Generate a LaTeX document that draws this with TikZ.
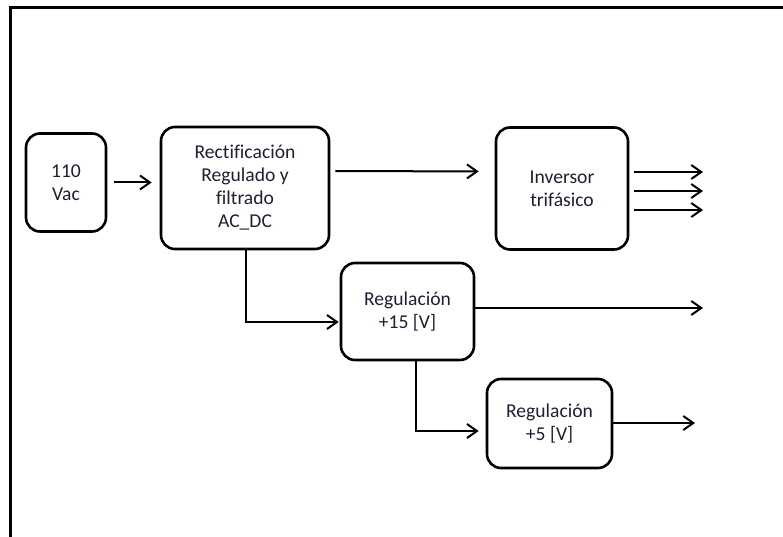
\documentclass[tikz,border=0pt]{standalone}
\usepackage{fontspec}
\setmainfont{Carlito}[Ligatures={NoCommon}]
\usetikzlibrary{arrows.meta}
\definecolor{txt}{RGB}{28,32,48}
\begin{document}
\begin{tikzpicture}[x=1pt,y=-1pt,
  blk/.style={draw=black, line width=2.6pt, rounded corners=14pt, align=center,
    text=txt, font=\fontsize{19.6}{23}\selectfont, inner sep=0pt},
  arr/.style={draw=black, line width=2pt, -{Straight Barb[length=10pt,width=14pt,line width=2pt]}}]
\useasboundingbox (0,0) rectangle (783,537);
\draw[line width=3pt] (10,540) -- (10,8) -- (786,8);
\node[blk, minimum width=80pt, minimum height=98pt] (vac) at (66,182.5) {110\\Vac};
\node[blk, minimum width=168pt, minimum height=122pt] (rect) at (245,188) {Rectificación\\Regulado y\\filtrado\\AC\_DC};
\node[blk, minimum width=132pt, minimum height=122pt] (inv) at (562,188.5) {Inversor\\trifásico};
\node[blk, minimum width=133pt, minimum height=97pt] (r15) at (407.5,311.5) {Regulación\\+15 [V]};
\node[blk, minimum width=125pt, minimum height=89pt] (r5) at (549.5,423.5) {Regulación\\+5 [V]};
\coordinate (o1) at (703,172);
\coordinate (o2) at (703,191);
\coordinate (o3) at (703,210);
\coordinate (out15) at (703,308);
\coordinate (out5) at (695,423);
\draw[arr, shorten <=7pt, shorten >=8pt] (vac.east) -- (rect.west |- vac.east);
\draw[arr, shorten <=5pt, shorten >=16pt] ([yshift=17pt]rect.east) -- ([yshift=17pt]inv.west);
\draw[arr, shorten <=5pt] (inv.east |- o1) -- (o1);
\draw[arr, shorten <=5pt] (inv.east |- o2) -- (o2);
\draw[arr, shorten <=5pt] (inv.east |- o3) -- (o3);
\draw[arr, shorten >=1pt] ([xshift=1pt]rect.south) |- ([yshift=-10.5pt]r15.west);
\draw[arr] (r15.east |- out15) -- (out15);
\draw[arr, shorten >=7pt] ([xshift=8.5pt]r15.south) |- ([yshift=-7.5pt]r5.west);
\draw[arr] (r5.east |- out5) -- (out5);
\end{tikzpicture}
\end{document}
